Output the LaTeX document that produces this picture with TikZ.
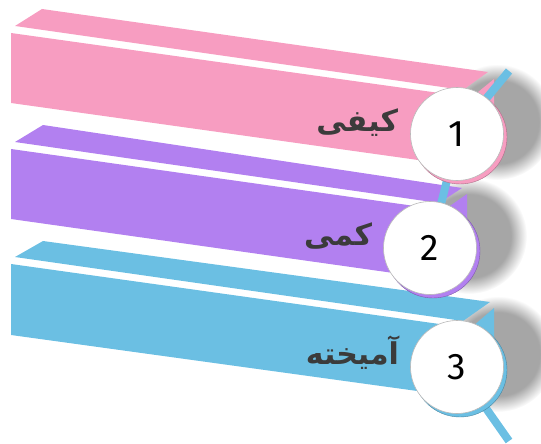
\documentclass[tikz,border=0pt]{standalone}
\usepackage{fontspec}
\setmainfont{Liberation Sans}
\newfontfamily\numfont{Fira Sans}
\newfontfamily\arabicfont[Script=Arabic]{DejaVu Sans}
\TeXXeTstate=1
\usetikzlibrary{positioning}
\definecolor{fpink}{HTML}{F79DC1}
\definecolor{fpurple}{HTML}{B280F0}
\definecolor{fblue}{HTML}{6BBFE3}
\definecolor{ftext}{HTML}{3B3B3B}
\definecolor{fshadow}{HTML}{A6A6A6}
\pgfdeclareradialshading{softshadow}{\pgfpoint{0bp}{0bp}}{%
  color(0bp)=(fshadow); color(18bp)=(fshadow); color(25bp)=(white); color(50bp)=(white)}
\tikzset{
  barface/.style = {fill=#1},
  coin/.style    = {circle, fill=white, draw=gray!55, line width=0.6pt,
                    minimum size=93pt, inner sep=0pt,
                    font=\numfont\fontsize{37}{37}\selectfont},
  coinrim/.style = {circle, fill=#1, draw=#1!70!black, line width=0.4pt,
                    minimum size=94pt, inner sep=0pt},
  handle/.style  = {line width=8pt, draw=fblue},
  blur/.style    = {circle, minimum size=116pt, inner sep=0pt, shade, shading=softshadow},
  lbl/.style     = {text=ftext, inner sep=0pt,
                    font=\arabicfont\bfseries\fontsize{30}{30}\selectfont},
}

\begin{document}
\begin{tikzpicture}[x=1pt,y=-1pt]
\useasboundingbox (0,0) rectangle (541,444);
% shadows behind the discs
\node[blur] (s1) at (497,122) {};
\node[blur] (s2) at (469,236) {};
\node[blur] (s3) at (498,354) {};
% bar 1
\fill[barface=fpink] (15,26) -- (42,9) -- (488,72) -- (463,90) -- cycle;
\fill[barface=fpink] (11,33) -- (468,97) -- (468,167) -- (11,103) -- cycle;
\fill[barface=fpink] (472,97) -- (494,79) -- (494,147) -- (472,166) -- cycle;
% bar 2
\fill[barface=fpurple] (15,142) -- (43,125) -- (462,188) -- (439,203) -- cycle;
\fill[barface=fpurple] (11,149) -- (443,210) -- (443,280) -- (11,219) -- cycle;
\fill[barface=fpurple] (447,208) -- (467,194) -- (467,262) -- (447,277) -- cycle;
% bar 3
\fill[barface=fblue] (15,257) -- (43,241) -- (490,302) -- (463,321) -- cycle;
\fill[barface=fblue] (11,264) -- (468,328) -- (468,398) -- (11,335) -- cycle;
\fill[barface=fblue] (472,327) -- (494,308) -- (494,377) -- (472,396) -- cycle;
% disc centres and handle ends
\coordinate (k1) at (457,134);
\coordinate (k2) at (430,248);
\coordinate (k3) at (457,367);
\coordinate (h1) at (509,71);
\coordinate (h2) at (447,180);
\coordinate (h3) at (509,441);
\draw[handle] (k1) -- (h1);
\draw[handle] (k2) -- (h2);
\draw[handle] (k3) -- (h3);
% discs, lowest first
\node[coinrim=fblue] (r3) at ([shift={(3,3)}]k3) {};
\node[coin] (c3) at (k3) {3};
\node[coinrim=fpurple] (r2) at ([shift={(3,3)}]k2) {};
\node[coin] (c2) at (k2) {2};
\node[coinrim=fpink] (r1) at ([shift={(3,3)}]k1) {};
\node[coin] (c1) at (k1) {1};
% labels
\node[lbl, left=12pt of c1, yshift=11pt] (t1) {\beginR کیفی\endR};
\node[lbl, left=11pt of c2, yshift=12pt] (t2) {\beginR کمی\endR};
\node[lbl, left=11pt of c3, yshift=14pt] (t3) {\beginR آمیخته\endR};
\end{tikzpicture}
\end{document}
